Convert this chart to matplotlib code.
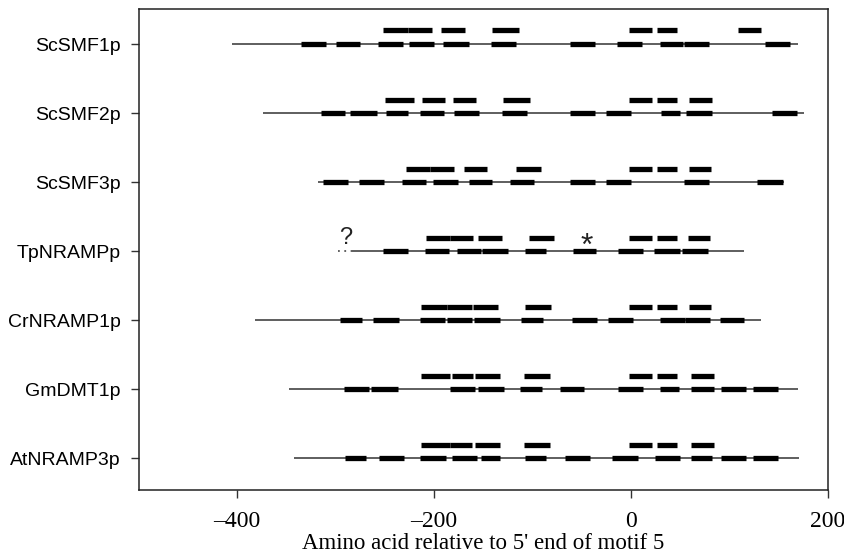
import matplotlib
matplotlib.use("Agg")
import matplotlib.pyplot as plt

proteins = ["ScSMF1p", "ScSMF2p", "ScSMF3p", "TpNRAMPp", "CrNRAMP1p", "GmDMT1p", "AtNRAMP3p"]

line_start = [-405, -374, -318, -283, -382, -347, -342]
line_end = [170, 176, 155, 115, 132, 170, 171]

lower_ScSMF1p = [(-335, -310), (-300, -275), (-257, -232), (-225, -200), (-191, -165), (-142, -117),
                 (-62, -37), (-14, 11), (29, 53), (54, 79), (136, 161)]
upper_ScSMF1p = [(-252, -227), (-227, -202), (-193, -169), (-141, -114), (-2, 21), (26, 47), (109, 132)]

lower_ScSMF2p = [(-315, -290), (-285, -258), (-249, -226), (-214, -190), (-180, -154), (-131, -106),
                 (-62, -37), (-25, 0), (30, 50), (56, 82), (143, 168)]
upper_ScSMF2p = [(-250, -220), (-212, -189), (-181, -157), (-130, -103), (-2, 21), (26, 47), (59, 82)]

lower_ScSMF3p = [(-313, -287), (-276, -251), (-233, -208), (-201, -176), (-165, -141), (-123, -99),
                 (-62, -37), (-25, 0), (54, 79), (128, 154)]
upper_ScSMF3p = [(-229, -204), (-204, -180), (-170, -146), (-117, -91), (-2, 21), (26, 47), (59, 81)]

lower_TpNRAMPp = [(-252, -227), (-209, -185), (-177, -152), (-151, -125), (-108, -86), (-59, -36),
                  (-13, 12), (23, 50), (52, 78)]
upper_TpNRAMPp = [(-208, -184), (-184, -160), (-155, -131), (-104, -78), (-2, 21), (26, 47), (58, 80)]

lower_CrNRAMP1p = [(-296, -273), (-262, -236), (-214, -189), (-187, -162), (-159, -133), (-112, -89),
                   (-60, -35), (-23, 2), (29, 55), (55, 80), (90, 115)]
upper_CrNRAMP1p = [(-213, -187), (-187, -162), (-160, -135), (-108, -81), (-2, 21), (26, 47), (59, 81)]

lower_GmDMT1p = [(-292, -266), (-264, -237), (-184, -158), (-155, -129), (-113, -90), (-72, -48),
                 (-13, 12), (29, 49), (61, 84), (91, 117), (124, 149)]
upper_GmDMT1p = [(-213, -184), (-182, -160), (-158, -133), (-109, -82), (-2, 21), (26, 47), (61, 84)]

lower_AtNRAMP3p = [(-290, -269), (-256, -231), (-214, -188), (-182, -156), (-152, -133), (-108, -86),
                   (-67, -42), (-19, 7), (24, 50), (61, 82), (91, 117), (124, 149)]
upper_AtNRAMP3p = [(-213, -184), (-184, -162), (-158, -133), (-109, -82), (-2, 21), (26, 47), (61, 84)]

lower_segments = [lower_ScSMF1p, lower_ScSMF2p, lower_ScSMF3p, lower_TpNRAMPp,
                  lower_CrNRAMP1p, lower_GmDMT1p, lower_AtNRAMP3p]
upper_segments = [upper_ScSMF1p, upper_ScSMF2p, upper_ScSMF3p, upper_TpNRAMPp,
                  upper_CrNRAMP1p, upper_GmDMT1p, upper_AtNRAMP3p]

# uncertain N-terminus for TpNRAMPp
tp_dotted = (-298, -283)
question_x = -290
star_x = -45

xticks = [-400, -200, 0, 200]
xticklabels = ["\u2013400", "\u2013200", "0", "200"]
xlabel = "Amino acid relative to 5' end of motif 5"

fig = plt.figure(figsize=(8.45, 5.59), dpi=100)
ax = fig.add_axes([0.1641, 0.1234, 0.9799 - 0.1641, 0.9839 - 0.1234])

n = len(proteins)
ys = [n - 1 - i for i in range(n)]
up = 0.196

for i, name in enumerate(proteins):
    y = ys[i]
    ax.hlines(y, line_start[i], line_end[i], color="#333333", lw=1.1, zorder=1)
    for a, b in lower_segments[i]:
        ax.hlines(y, a, b, color="black", lw=3.8, zorder=2, capstyle="butt")
    for a, b in upper_segments[i]:
        ax.hlines(y + up, a, b, color="black", lw=3.8, zorder=2, capstyle="butt")

ti = proteins.index("TpNRAMPp")
ax.hlines(ys[ti], tp_dotted[0], tp_dotted[1], color="#555555", lw=1.3, linestyles=(0, (1, 2.5)), zorder=1)
ax.text(question_x, ys[ti] + 0.10, "?", ha="center", va="baseline", fontsize=17,
        family="Liberation Sans", color="#222222")
ax.text(star_x, ys[ti] - 0.05, "*", ha="center", va="baseline", fontsize=23,
        family="Liberation Sans", color="#222222")

ax.set_xlim(-500, 200)
ax.set_ylim(-0.46, n - 1 + 0.507)
ax.set_xticks(xticks)
ax.set_xticklabels(xticklabels, family="Liberation Serif", fontsize=17)
ax.set_yticks(ys)
ax.set_yticklabels(proteins, family="Liberation Sans", fontsize=14)
ax.tick_params(axis="both", direction="out", length=6, width=1, color="#333333")
ax.tick_params(axis="x", pad=9)
ax.tick_params(axis="y", pad=7)
for s in ax.spines.values():
    s.set_linewidth(1.1)
    s.set_color("#222222")
ax.set_xlabel(xlabel, family="Liberation Serif", fontsize=16.5, labelpad=1)

fig.savefig("out.png", dpi=100)
